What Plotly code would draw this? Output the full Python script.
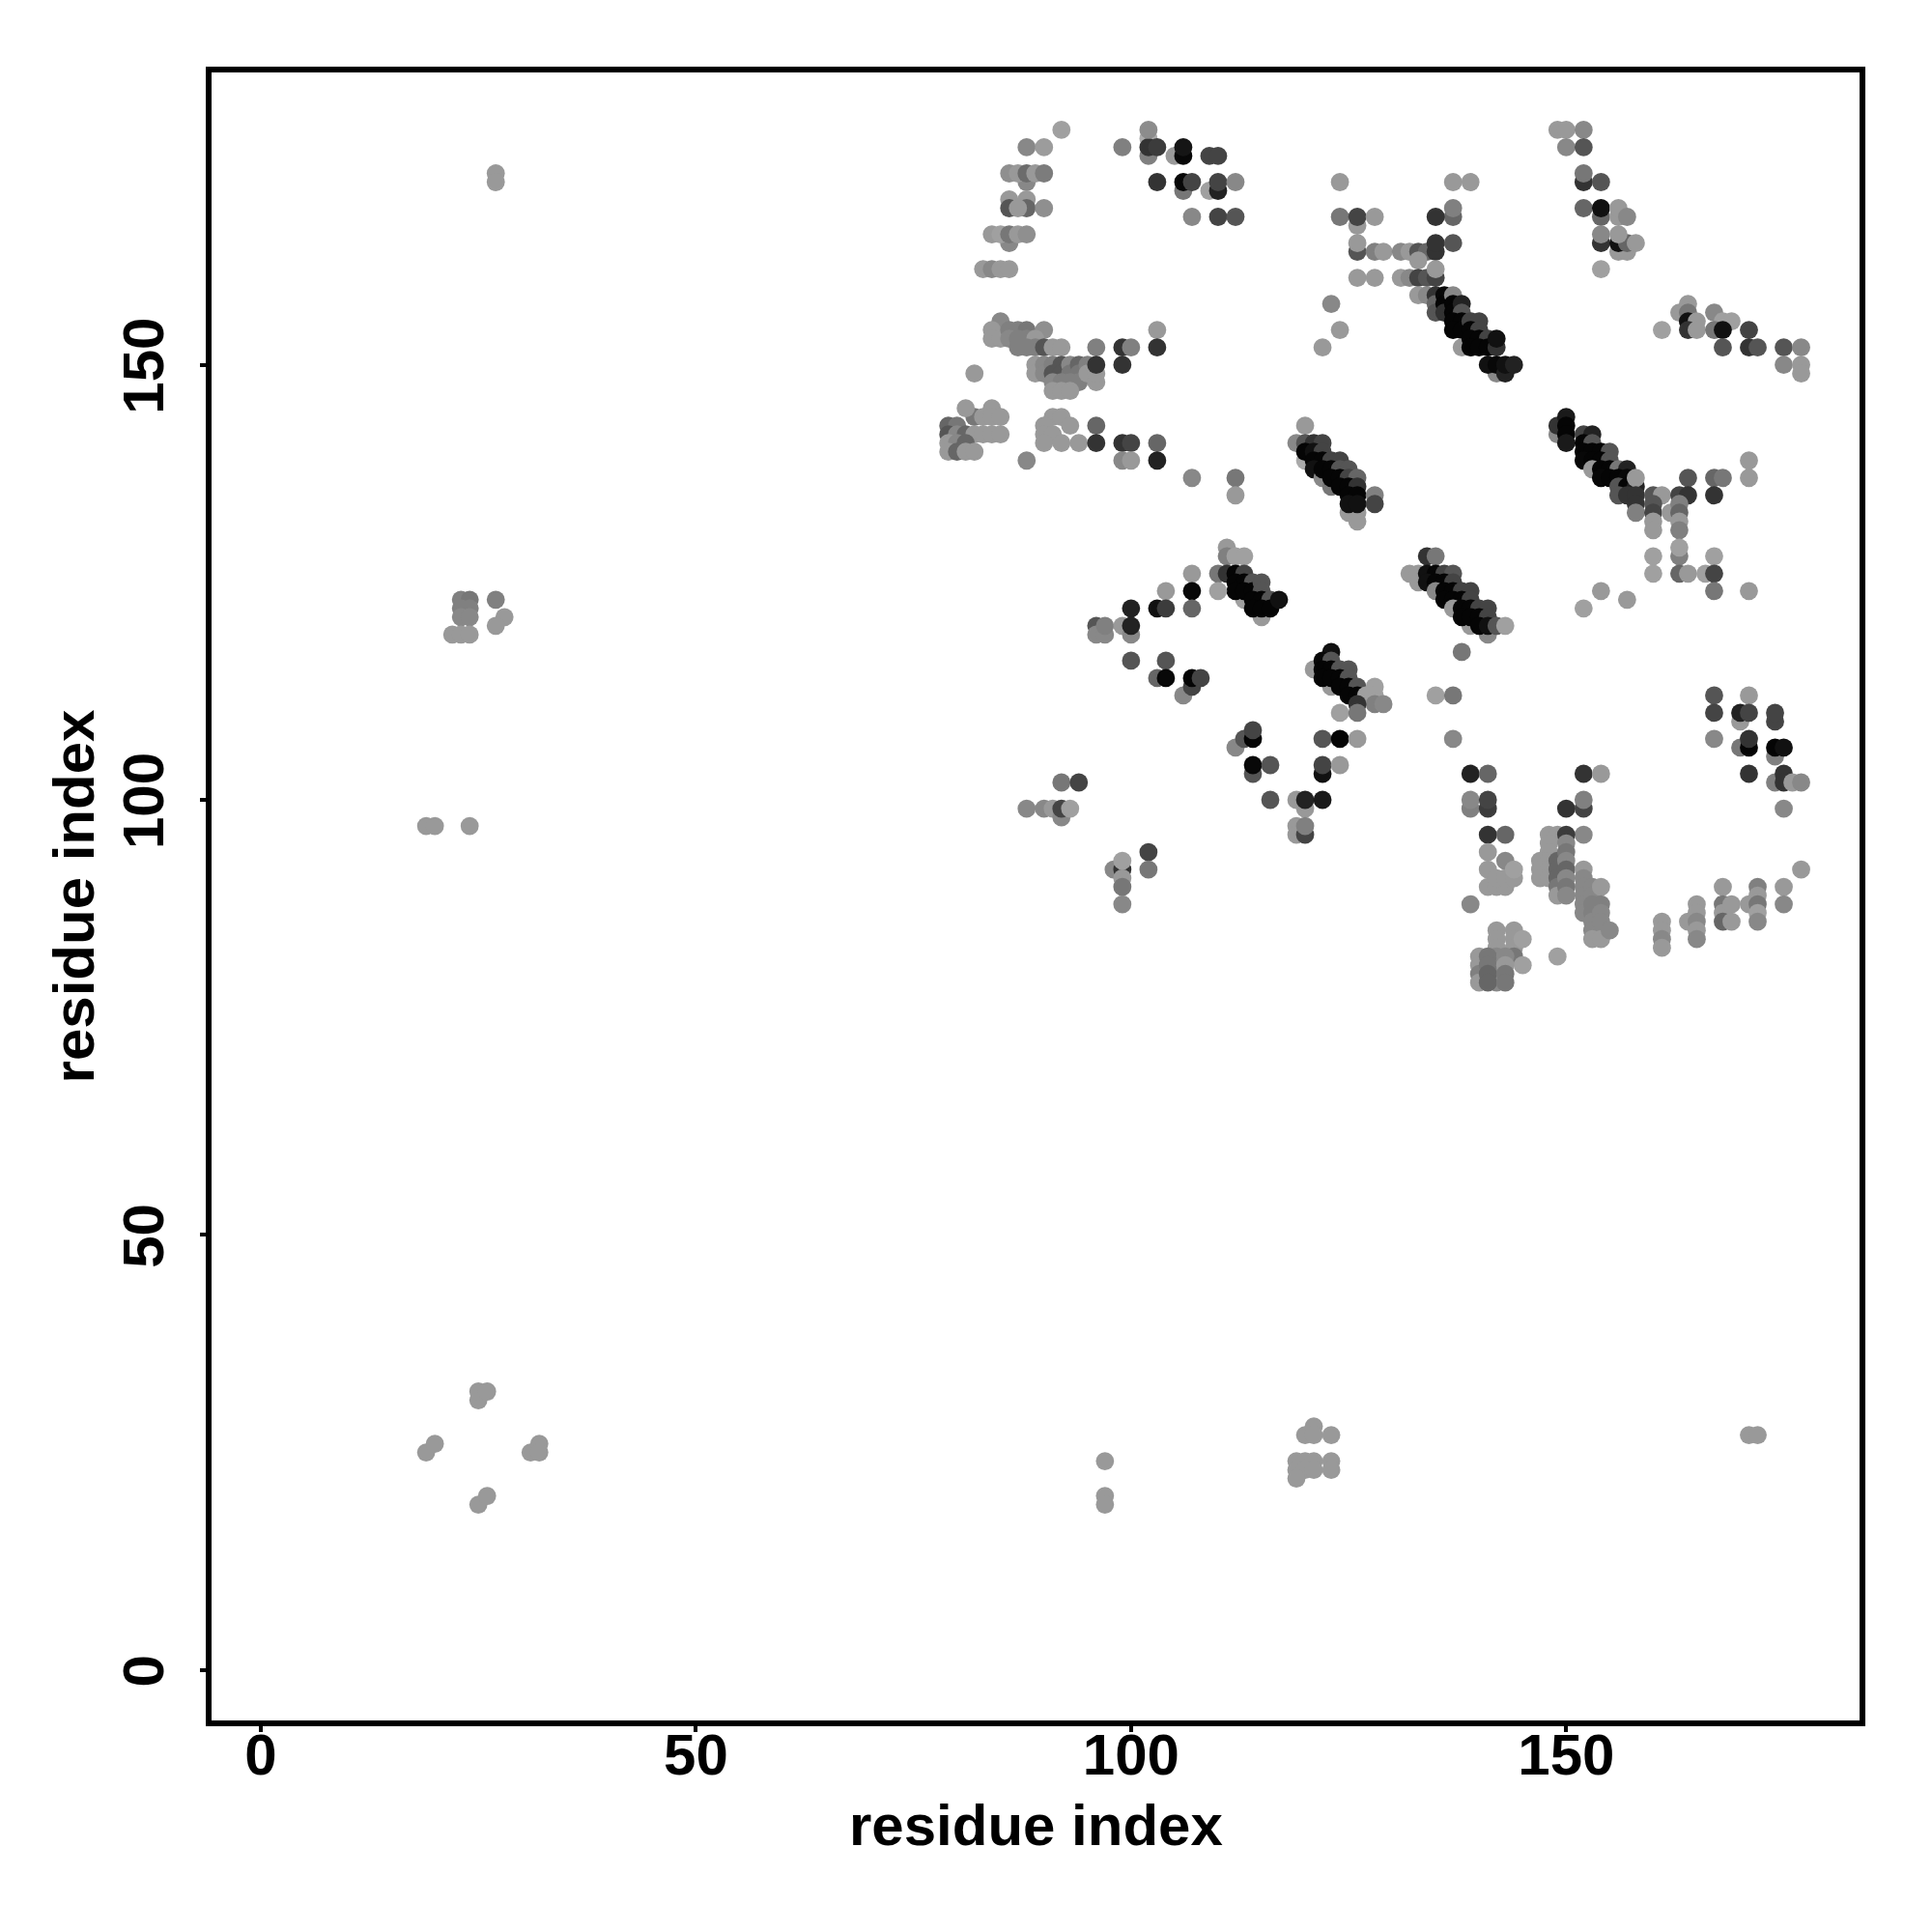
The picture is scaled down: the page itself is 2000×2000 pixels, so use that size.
import plotly.graph_objects as go

# (residue x, residue y, grey level 0-255)
far_left = [(27,172,153),(27,171,153),(23,123,128),(24,123,119),(27,123,128),(23,122,128),(24,122,128),
    (23,121,136),(24,121,136),(28,121,153),(27,120,153),(22,119,153),(23,119,153),(24,119,153),
    (19,97,153),(20,97,153),(24,97,153),(25,31,153),(25,32,153),(26,32,153),(19,25,153),(20,26,153),
    (31,25,153),(32,26,153),(32,25,153),(25,19,153),(26,20,153)]
low_band = [(97,24,153),(97,20,153),(97,19,153),(120,27,153),(121,28,153),(121,27,153),(123,27,153),
    (119,24,153),(120,24,153),(121,24,153),(123,24,153),(119,23,153),(120,23,153),(121,23,153),(123,23,153),
    (119,22,153),(171,27,153),(172,27,153)]
top_left = [(92,177,160),(88,175,136),(90,175,156),(86,172,143),(88,171,136),(87,172,153),(88,172,108),(89,172,153),(90,172,124),
    (86,169,153),(88,169,153),(86,168,85),(88,168,102),(87,168,153),(90,168,143),(86,164,136),(84,165,153),(85,165,160),(86,165,119),
    (87,165,153),(88,165,143),(83,161,153),(84,161,136),(85,161,153),(86,161,153)]
top_mid = [(102,176,170),(102,174,128),(99,175,128),(102,175,51),(102,177,140),(103,175,60),(105,174,153),(106,174,8),(106,175,21),
    (109,174,68),(110,174,68),(106,170,119),(103,171,51),(106,171,8),(107,171,68),(109,170,160),(110,170,34),(110,171,68),(112,171,136),
    (107,167,136),(110,167,68),(112,167,85)]
mid_left = [(85,155,136),(84,154,153),(84,153,153),(85,153,153),(86,154,128),(87,154,128),(86,153,136),(88,154,119),(87,153,128),(88,153,128),
    (90,154,143),(89,153,153),(87,152,128),(88,152,128),(89,152,128),(90,152,85),(91,152,153),(92,152,153),(96,152,128),(99,152,51),(100,152,128),
    (103,154,153),(103,152,51),(89,150,153),(89,149,153),(90,150,136),(90,149,136),(91,150,128),(91,149,85),(92,150,85),(92,149,85),(93,150,136),(93,149,119),
    (94,150,102),(94,149,119),(91,148,136),(92,148,128),(93,148,128),(94,148,128),(95,150,128),(95,149,153),(96,148,153),(96,149,153),(96,150,51),(99,150,51),
    (91,147,153),(92,147,153),(93,147,153),(82,149,153)]
mid_lower = [(79,143,102),(80,143,119),(79,142,85),(80,142,136),(81,142,102),(82,144,119),(81,145,153),(84,145,153),(83,144,153),(84,144,153),(85,144,153),
    (82,142,153),(83,142,153),(84,142,153),(85,142,153),(79,141,153),(80,141,136),(79,140,153),(80,140,102),(81,141,102),(81,140,153),(82,140,153),
    (91,144,153),(92,144,153),(90,143,153),(93,143,153),(90,142,153),(91,142,153),(90,141,153),(92,141,153),(94,141,153),
    (96,143,102),(96,141,51),(99,141,51),(100,141,68),(103,141,102),(88,139,136),(99,139,136),(100,139,153),(103,139,34),(107,137,136),(112,137,119),(112,135,153)]
top_centre = [(124,171,153),(124,167,119),(126,166,153),(126,167,68),(128,167,153),(126,163,85),(126,164,153),(128,163,128),(129,163,153),(131,163,136),(132,163,153),
    (126,160,153),(128,160,153),(131,160,153),(132,160,136),(133,163,85),(134,163,102),(133,162,153),(135,163,51),(135,164,51),(137,164,85),(133,160,68),(134,160,85),
    (135,160,68),(135,161,153),(137,167,102),(137,168,128),(135,167,51),(137,171,153),(139,171,153),(123,157,136),(124,154,153),(122,152,153)]
diag_upper = [(133,158,153),(134,158,136),(135,158,51),(135,157,102),(135,156,85),(136,158,8),(136,157,5),(136,156,51),(137,158,136),(137,157,5),(137,156,5),(138,157,34),
    (138,156,85),(137,155,5),(138,155,5),(137,154,5),(138,154,5),(138,152,153),(139,155,68),(140,155,68),(139,154,5),(140,154,68),(139,153,5),(140,153,5),(141,153,68),
    (139,152,5),(140,152,5),(141,152,5),(142,152,51),(142,153,17),(142,149,136),(141,150,17),(142,150,8),(143,149,34),(143,150,17),(144,150,34)]
diag_right = [(149,142,136),(149,143,51),(150,144,26),(150,143,5),(150,142,5),(150,141,26),(152,142,68),(153,142,34),(152,141,5),(153,141,85),(152,140,5),(153,140,5),(154,140,5),(155,140,85),
    (152,139,8),(153,139,5),(154,139,5),(155,139,85),(153,138,153),(154,138,5),(155,138,5),(156,138,119),(157,138,34),(154,137,8),(155,137,5),(156,137,5),(157,137,8),
    (156,136,85),(157,136,5),(158,136,34),(158,137,153),(156,135,85),(157,135,51),(158,135,51),(158,134,51),(158,133,128),(171,139,153),(164,137,85),(167,137,102),(168,137,119),(171,137,153),
    (160,135,85),(161,135,153),(160,134,85),(160,133,68),(160,132,153),(160,131,153),(162,133,153),(163,135,68),(164,135,51),(163,134,128),(163,133,102),(163,132,153),(163,131,128),(167,135,51),
    (163,128,128),(163,129,160),(163,126,102),(164,126,153),(160,128,160),(167,128,160),(160,126,160),(166,126,160),(167,126,68),(167,124,119),(171,124,153),(154,124,153),(157,123,153),(152,122,160)]
top_right = [(149,177,153),(150,177,153),(152,177,136),(150,175,136),(152,175,85),(152,171,51),(152,172,119),(154,171,85),(152,168,102),(154,167,102),(154,168,17),(156,167,153),(156,168,153),(157,167,136),
    (154,164,51),(154,165,136),(156,163,153),(157,163,153),(156,164,17),(157,164,102),(156,165,153),(158,164,153),(154,161,160),(161,154,160),(164,157,153),(163,156,153),(164,155,85),(164,156,119),(164,155,17),(165,155,153),
    (167,156,136),(168,155,160),(169,155,160),(164,154,51),(165,154,153),(167,154,119),(168,154,17),(171,154,68),(168,152,85),(171,152,51),(172,152,85),(175,152,85),(177,152,136),(175,150,136),(177,150,153),(177,149,153)]
diag_mid = [(120,143,153),(119,141,136),(120,141,85),(121,141,51),(122,141,68),(120,139,170),(120,140,5),(121,140,17),(122,140,68),(121,139,5),(122,139,5),(123,139,68),(124,139,68),(121,138,17),(122,137,136),
    (122,138,5),(123,138,5),(124,138,85),(125,138,85),(123,136,119),(123,137,5),(124,137,5),(125,137,68),(126,137,102),(124,136,5),(125,136,5),(126,136,51),(125,133,153),(126,133,153),(126,132,153),(125,135,5),(126,135,5),
    (125,134,17),(126,134,17),(128,135,128),(128,134,68)]
diag_centre = [(111,129,153),(111,128,128),(112,128,160),(113,128,160),(110,126,119),(111,126,51),(113,123,160),(112,126,5),(113,126,68),(112,125,5),(113,125,5),(114,125,85),(112,124,5),(113,124,5),(114,124,5),(115,125,85),
    (115,124,85),(114,123,5),(115,123,5),(116,123,85),(115,121,153),(114,122,5),(115,122,5),(116,122,5),(117,123,17),(107,126,153),(110,124,160),(104,124,153),(107,124,8),(100,122,34),(103,122,17),(104,122,60),(107,122,102),
    (96,120,85),(96,119,136),(97,119,136),(97,120,128),(99,120,153),(100,119,136),(100,120,34),(100,116,85),(104,116,85),(103,114,102),(104,114,8),(106,112,136),(107,113,68),(107,114,5),(108,114,68)]
diag_low = [(121,115,153),(123,117,17),(122,116,8),(123,116,85),(122,115,5),(123,115,5),(124,115,85),(125,115,85),(123,113,153),(122,114,5),(123,114,5),(124,114,5),(125,114,85),(124,113,5),(125,113,5),(126,113,85),
    (125,112,5),(126,112,5),(128,113,160),(128,112,160),(127,112,160),(128,111,128),(129,111,136),(126,111,51),(124,110,160),(126,110,119)]
diag_lower = [(134,128,51),(135,128,119),(132,126,153),(133,126,153),(133,125,153),(134,126,17),(135,126,5),(136,126,68),(137,126,85),(134,125,17),(135,125,5),(136,125,5),(137,125,68),(135,124,136),(136,124,5),(137,124,5),(138,124,68),(139,124,68),
    (136,123,5),(137,123,5),(138,123,5),(139,123,68),(137,122,153),(138,122,5),(139,122,5),(140,122,68),(141,122,68),(139,120,153),(138,121,5),(139,121,5),(140,121,5),(141,121,68),(141,119,136),(140,120,5),(141,120,17),(142,120,85),(143,120,160),
    (138,117,119),(135,112,160),(137,112,119),(137,107,136)]
lower_mid = [(112,106,136),(113,107,85),(114,107,5),(114,108,68),(122,107,85),(124,107,5),(126,107,153),(114,103,85),(114,104,8),(116,104,85),(122,103,17),(122,104,68),(124,104,153),(92,102,119),(94,102,68),
    (116,100,85),(119,100,153),(120,99,153),(120,100,34),(122,100,26),(88,99,136),(90,99,136),(91,99,153),(92,98,136),(92,99,68),(93,99,160),(119,97,153),(119,96,153),(120,96,68),(120,97,128),
    (102,94,68),(102,92,119),(98,92,136),(99,92,51),(99,93,160),(99,91,153),(99,90,119),(99,88,136)]
right_block = [(167,112,85),(171,112,153),(167,110,68),(170,109,153),(170,110,34),(171,110,68),(174,109,68),(174,110,68),(167,107,136),(170,106,119),(171,106,5),(171,107,51),(174,105,128),(174,106,5),(175,106,17),
    (171,103,51),(174,102,128),(175,103,51),(175,102,51),(176,102,153),(177,102,136),(175,99,136)]
lower_right = [(139,103,34),(141,103,102),(152,103,51),(154,103,153),(139,99,128),(139,100,136),(141,99,60),(141,100,68),(150,99,51),(152,99,68),(152,100,128),(141,96,51),(143,96,102),(148,96,153),(149,96,153),(152,96,136),
    (148,95,153),(141,94,153),(148,94,153),(147,93,153),(148,93,153),(147,92,153),(148,92,153),(147,91,153),(148,91,153),(149,93,102),(149,92,102),(149,91,102),(149,90,119),(149,89,153),(150,96,60),(150,95,136),(150,94,119),(150,93,136),(150,92,102),(150,91,136),(150,90,119),(150,89,136),
    (152,92,153),(152,91,136),(152,90,136),(152,89,136),(152,88,136),(152,87,136),(153,90,136),(153,89,136),(153,88,128),(153,87,128),(153,86,136),(153,85,136),(153,84,153),(154,90,153),(154,88,128),(154,87,136),(154,86,136),(154,84,153),(155,85,136),
    (141,92,153),(141,90,153),(142,90,153),(143,90,153),(142,91,153),(143,93,136),(143,91,153),(144,91,153),(144,92,160),(139,88,136)]
bottom_blocks = [(142,85,153),(142,84,153),(142,83,153),(142,82,136),(142,81,136),(142,80,136),(142,79,136),(144,85,153),(144,84,153),(144,83,153),(144,82,119),(145,84,160),(145,81,160),
    (140,82,153),(140,81,153),(140,80,128),(140,79,153),(141,82,119),(141,81,119),(141,80,102),(141,79,102),(143,82,136),(143,81,153),(143,80,119),(143,79,119),(149,82,160),
    (161,86,153),(161,85,153),(161,84,136),(161,83,153),(164,86,153),(165,88,153),(165,87,153),(165,86,136),(165,85,153),(165,84,136),
    (168,90,153),(168,88,119),(168,87,153),(168,86,102),(169,88,153),(169,86,153),(171,88,153),(172,90,128),(172,89,153),(172,88,119),(172,87,160),(172,86,136),(175,90,153),(175,88,136),(177,92,153)]

regions = [far_left, low_band, top_left, top_mid, mid_left, mid_lower, top_centre, diag_upper, diag_right, top_right,
           diag_mid, diag_centre, diag_low, diag_lower, lower_mid, right_block, lower_right, bottom_blocks]
points = [p for region in regions for p in region]
x_residue = [p[0] for p in points]
y_residue = [p[1] for p in points]
shades = [f"rgb({p[2]},{p[2]},{p[2]})" for p in points]

tick_values = [0, 50, 100, 150]
axis_title = "residue index"
FONT = "Liberation Sans"
bold60 = dict(family=FONT, size=60, color="black", weight=700)

fig = go.Figure(go.Scatter(x=x_residue, y=y_residue, mode="markers",
                           marker=dict(size=18.8, color=shades, line=dict(width=0)),
                           showlegend=False, hoverinfo="skip", cliponaxis=False))
common = dict(tickmode="array", tickvals=tick_values, ticktext=[str(v) for v in tick_values],
              ticks="outside", ticklen=6, tickwidth=3.5, tickcolor="black",
              showline=True, linecolor="black", linewidth=5.5, mirror=True,
              showgrid=False, zeroline=False, automargin=False, tickfont=bold60)
fig.update_layout(width=2000, height=2000, paper_bgcolor="white", plot_bgcolor="white",
                  font=dict(family=FONT, color="black"),
                  margin=dict(l=211, r=82.75, t=66.75, b=226.75, pad=0),
                  xaxis=dict(range=[-5.66, 183.71], ticklabelstandoff=-28, **common),
                  yaxis=dict(range=[-5.80, 183.6], tickangle=-90, ticklabelstandoff=14, ticklabelshift=10,
                             title=dict(text=axis_title, font=bold60, standoff=0), **common),
                  annotations=[dict(text=axis_title, xref="paper", yref="paper", x=0.5, y=0,
                                    xanchor="center", yanchor="top", yshift=-73, showarrow=False, font=bold60)])
fig.write_html("out.html")
